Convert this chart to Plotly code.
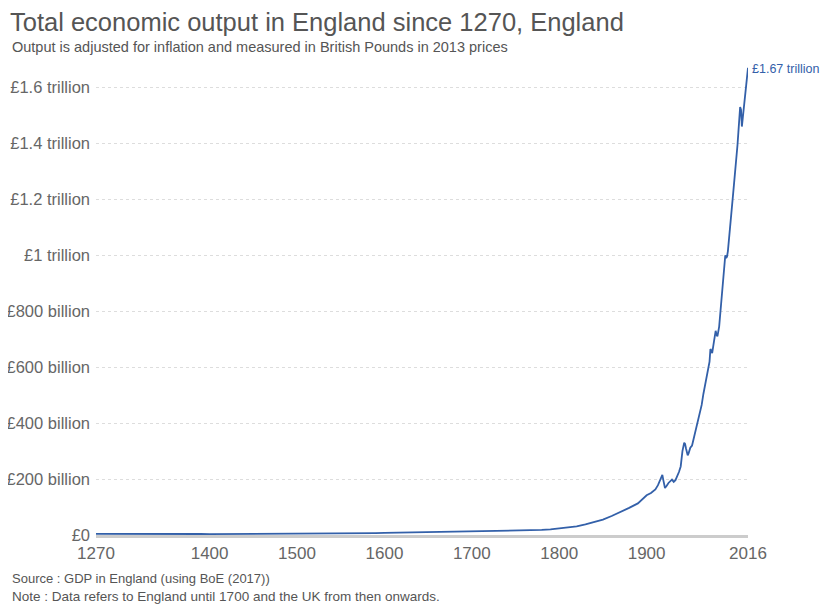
import plotly.graph_objects as go

years = [1270, 1280, 1290, 1300, 1310, 1320, 1330, 1340, 1350, 1360, 1370, 1380, 1390,
         1400, 1410, 1420, 1430, 1440, 1450, 1460, 1470, 1480, 1490, 1500, 1510, 1520,
         1530, 1540, 1550, 1560, 1570, 1580, 1590, 1600, 1610, 1620, 1630, 1640, 1650,
         1660, 1670, 1680, 1690, 1700, 1710, 1720, 1730, 1740, 1750, 1760, 1770, 1780,
         1790, 1800, 1810, 1820, 1830, 1840, 1850, 1860, 1870, 1880, 1890, 1900, 1905,
         1910, 1913, 1915, 1918, 1919, 1920, 1921, 1923, 1925, 1929, 1931, 1933, 1935,
         1937, 1939, 1941, 1943, 1944, 1945, 1946, 1947, 1948, 1950, 1952, 1955, 1957,
         1960, 1963, 1965, 1968, 1970, 1972, 1973, 1974, 1975, 1977, 1979, 1980, 1981,
         1983, 1984, 1986, 1988, 1990, 1991, 1992, 1993, 1995, 1997, 1999, 2001, 2003,
         2004, 2005, 2006, 2007, 2008, 2009, 2010, 2011, 2012, 2013, 2014, 2015, 2016]

gdp_billion = [4.0, 4.2, 4.5, 4.6, 4.5, 4.3, 4.6, 4.7, 3.6, 3.5, 3.6, 3.7, 3.6,
               3.4, 3.5, 3.4, 3.4, 3.3, 3.2, 3.2, 3.4, 3.5, 3.7, 3.9, 4.1, 4.3,
               4.6, 5.0, 5.3, 5.6, 6.0, 6.6, 6.9, 7.5, 8.0, 8.3, 8.6, 8.8, 9.2,
               10.0, 10.7, 11.4, 12.0, 13.5, 14.5, 15.0, 15.5, 16.0, 16.5, 17.0, 17.5, 18.0,
               20.0, 24.0, 27.0, 31.0, 38.0, 46.0, 55.0, 68.0, 84.0, 97.0, 113.0, 142.0, 150.0,
               163.0, 178.0, 195.0, 215.0, 198.0, 182.0, 168.0, 176.0, 186.0, 198.0, 190.0, 196.0, 210.0,
               225.0, 245.0, 300.0, 330.0, 326.0, 310.0, 292.0, 285.0, 292.0, 312.0, 320.0, 360.0, 385.0,
               425.0, 465.0, 505.0, 555.0, 585.0, 620.0, 665.0, 655.0, 650.0, 690.0, 730.0, 715.0, 710.0,
               745.0, 780.0, 850.0, 930.0, 1000.0, 990.0, 995.0, 1015.0, 1075.0, 1140.0, 1220.0, 1290.0, 1350.0,
               1395.0, 1440.0, 1490.0, 1530.0, 1520.0, 1460.0, 1490.0, 1515.0, 1540.0, 1570.0, 1610.0, 1640.0, 1670.0]

x_ticks = [1270, 1400, 1500, 1600, 1700, 1800, 1900, 2016]
y_ticks = [0, 200, 400, 600, 800, 1000, 1200, 1400, 1600]
y_tick_labels = ["£0", "£200 billion", "£400 billion", "£600 billion", "£800 billion",
                 "£1 trillion", "£1.2 trillion", "£1.4 trillion", "£1.6 trillion"]

title = "Total economic output in England since 1270, England"
subtitle = "Output is adjusted for inflation and measured in British Pounds in 2013 prices"
source = "Source : GDP in England (using BoE (2017))"
note = "Note : Data refers to England until 1700 and the UK from then onwards."
end_label = "£1.67 trillion"

LINE = "#3360a9"
FONT = "Liberation Sans, Arial, sans-serif"

fig = go.Figure()
fig.add_trace(go.Scatter(x=years, y=gdp_billion, mode="lines",
                         line=dict(color=LINE, width=1.8), hoverinfo="skip",
                         showlegend=False))

fig.add_annotation(x=years[-1], y=gdp_billion[-1], xref="x", yref="y",
                   text=end_label, showarrow=False, xanchor="left", yanchor="middle",
                   xshift=2, yshift=-1, font=dict(family=FONT, size=12.5, color=LINE))

fig.add_annotation(x=-0.132, y=1.038, xref="paper", yref="paper", text=subtitle,
                   showarrow=False, xanchor="left", yanchor="middle",
                   font=dict(family=FONT, size=14.5, color="#555555"))
fig.add_annotation(x=-0.132, y=-0.0915, xref="paper", yref="paper", text=source,
                   showarrow=False, xanchor="left", yanchor="middle",
                   font=dict(family=FONT, size=13, color="#555555"))
fig.add_annotation(x=-0.132, y=-0.13, xref="paper", yref="paper", text=note,
                   showarrow=False, xanchor="left", yanchor="middle",
                   font=dict(family=FONT, size=13.5, color="#555555"))

fig.update_layout(
    width=827, height=596,
    margin=dict(l=88, r=87, t=57, b=69),
    paper_bgcolor="white", plot_bgcolor="white",
    font=dict(family=FONT, color="#666666"),
    title=dict(text=title, x=0.0024, xanchor="left", y=0.976, yanchor="middle",
               font=dict(family=FONT, size=25.5, color="#555555")),
    xaxis=dict(range=[1270, 2016], tickvals=x_ticks, ticktext=[str(v) for v in x_ticks],
               showgrid=False, zeroline=False, showline=True, linecolor="#cccccc",
               linewidth=2.5, ticks="", tickfont=dict(size=17, color="#666666"),
               ticklabelstandoff=1, automargin=False),
    yaxis=dict(range=[0, 1680], tickvals=y_ticks, ticktext=y_tick_labels,
               showgrid=True, gridcolor="#dddddd", griddash="dot", gridwidth=1,
               zeroline=False, showline=False, ticks="",
               tickfont=dict(size=16.5, color="#666666"), ticklabelstandoff=5,
               automargin=False),
)

fig.write_html("out.html")
